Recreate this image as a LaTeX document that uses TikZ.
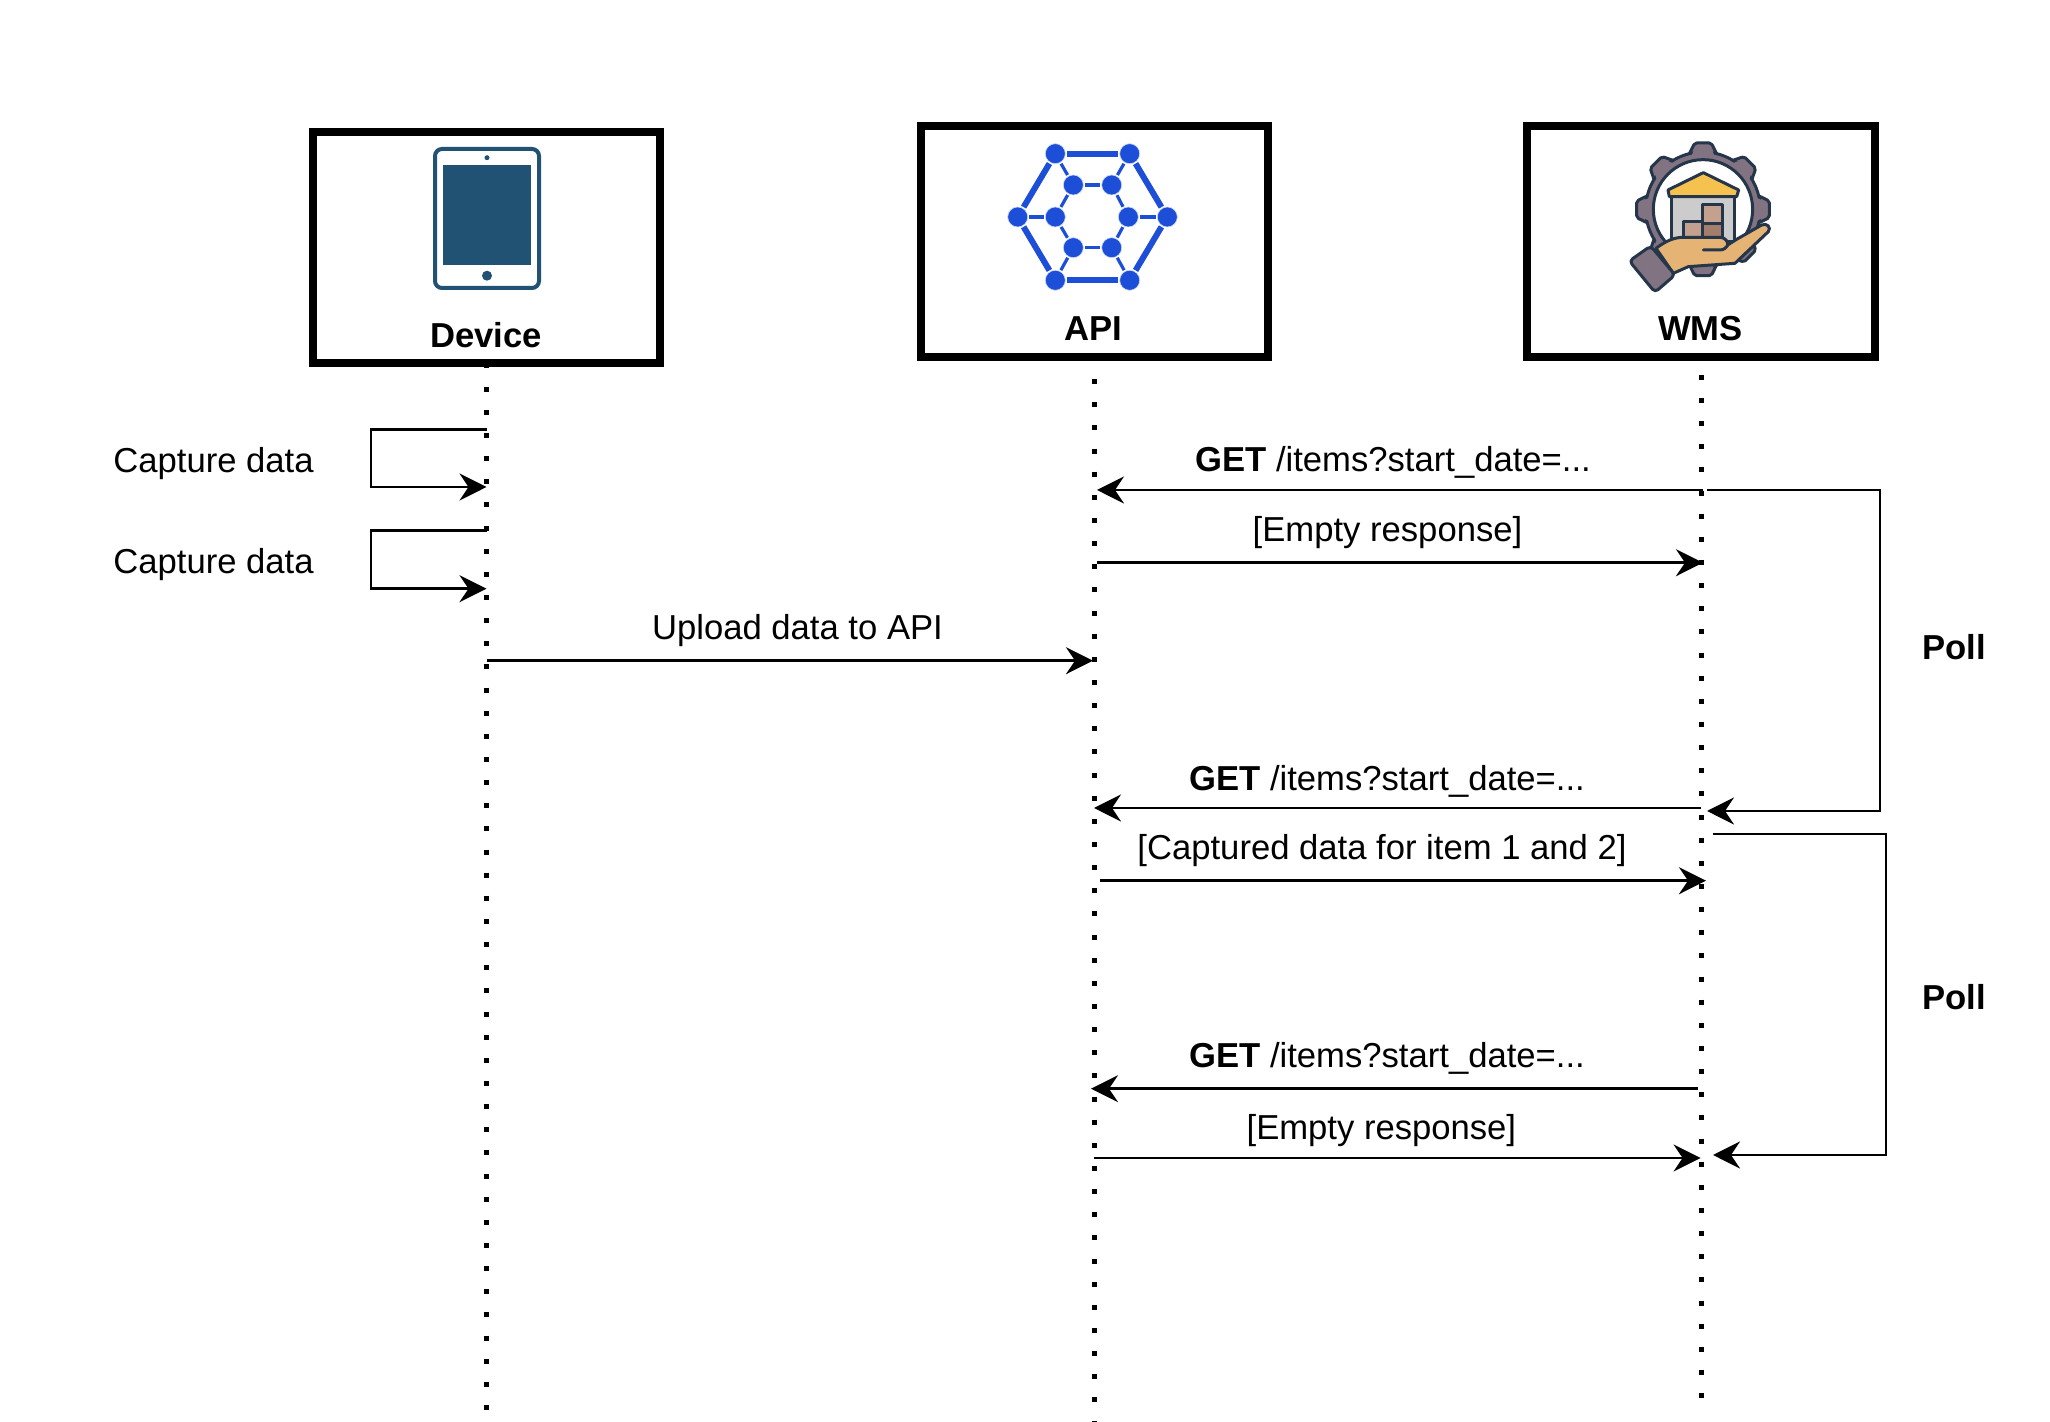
\documentclass[tikz,border=0pt]{standalone}
\usepackage{fontspec}
\setmainfont{Liberation Sans}
\usetikzlibrary{arrows.meta, positioning, calc}
\definecolor{tabletblue}{RGB}{33,82,115}
\definecolor{netblue}{RGB}{29,78,216}
\definecolor{halo}{RGB}{205,220,248}
\definecolor{gearinline}{RGB}{37,54,74}
\definecolor{geargray}{RGB}{130,115,130}
\definecolor{roofyellow}{RGB}{245,194,80}
\definecolor{wallgray}{RGB}{204,204,204}
\definecolor{boxlight}{RGB}{196,160,142}
\definecolor{boxdark}{RGB}{164,126,108}
\definecolor{handtan}{RGB}{229,180,117}
\tikzset{
  actorbox/.style={draw=black, line width=0.08cm, fill=white, minimum width=3.47cm, minimum height=2.31cm, inner sep=0pt},
  lifeline/.style={line width=0.05cm, dash pattern=on 0.05cm off 0.1813cm},
  msg/.style={line width=0.026cm, -{Stealth[length=0.27cm, width=0.27cm, inset=0.09cm]}},
  plainlabel/.style={anchor=base, inner sep=0pt, font=\fontsize{9.85}{12}\selectfont},
  boldlabel/.style={plainlabel, font=\fontsize{9.85}{12}\selectfont\bfseries},
  netdot/.style={circle, fill=netblue, draw=halo, line width=0.006cm, minimum size=0.2cm, inner sep=0pt, outer sep=0.015cm},
  iconline/.style={draw=gearinline, line width=0.03cm, line join=round}
}
\begin{document}
\begin{tikzpicture}[x=0.01cm, y=-0.01cm]
  \useasboundingbox (0,0) rectangle (2050,1422);
  \fill[white] (0,0) rectangle (2050,1422);

  \foreach \name/\x/\y in {devtop/486.5/363.5, devend/486.5/1410, apitop/1094/356, apiend/1094/1422, wmstop/1701.5/374.8, wmsend/1701.5/1398}
    \coordinate (\name) at (\x,\y);
  \draw[lifeline] (devtop) -- (devend);
  \draw[lifeline] (apitop) -- (apiend);
  \draw[lifeline] (wmstop) -- (wmsend);

  \node[actorbox] (device) at (486.75,247.5) {};
  \node[actorbox] (api) at (1094.5,241.5) {};
  \node[actorbox] (wms) at (1701,241.5) {};
  \node[boldlabel] (devicelabel) at (486,348) {Device};
  \node[boldlabel] (apilabel) at (1093,341) {API};
  \node[boldlabel] (wmslabel) at (1700.5,341) {WMS};

  % tablet
  \draw[tabletblue, line width=0.04cm, rounded corners=0.07cm] (435,149) rectangle (539,288);
  \fill[tabletblue] (443,165) rectangle (531,265);
  \fill[tabletblue] (487,157.7) circle (2.5);
  \fill[tabletblue] (487,275.7) circle (5);

  % network
  \foreach \name/\x/\y in {o1/1055.3/153.7, o2/1129.7/153.7, o3/1167.3/217, o4/1129.7/280.3, o5/1055.3/280.3, o6/1017.7/217,
                           i1/1073.3/185, i2/1111.7/185, i3/1128.3/217, i4/1111.7/247.7, i5/1073.3/247.7, i6/1055.3/217}
    \node[netdot] (\name) at (\x,\y) {};
  \foreach \a/\b in {o1/o2, o2/o3, o3/o4, o4/o5, o5/o6, o6/o1}
    \draw[netblue, line width=0.06cm] (\a) -- (\b);
  \foreach \a/\b in {o1/i1, o2/i2, o3/i3, o4/i4, o5/i5, o6/i6, i1/i2, i2/i3, i3/i4, i4/i5, i5/i6, i6/i1}
    \draw[netblue, line width=0.032cm] (\a) -- (\b);

  % warehouse
  \begin{scope}[shift={(1620,130)}, scale=0.3333]
    \foreach \a in {0,45,...,315}
      \filldraw[iconline, fill=geargray, rotate around={\a:(249,238)}, rounded corners=0.02cm] (205,78) -- (224,39) -- (274,39) -- (293,78) -- cycle;
    \filldraw[iconline, fill=geargray] (249,238) circle (172);
    \foreach \a in {0,45,...,315}
      \fill[geargray, rotate around={\a:(249,238)}] (211,85) -- (228,47) -- (270,47) -- (287,85) -- cycle;
    \fill[geargray] (249,238) circle (166);
    \filldraw[iconline, fill=white] (249,238) circle (149);
    \filldraw[iconline, fill=wallgray] (153,198) rectangle (345,335);
    \filldraw[iconline, fill=roofyellow] (250,128) -- (356,180) -- (350,200) -- (148,200) -- (144,180) -- cycle;
    \filldraw[iconline, fill=boxlight] (248,225) rectangle (308,280);
    \filldraw[iconline, fill=boxdark] (248,280) rectangle (308,322);
    \filldraw[iconline, fill=boxlight] (190,275) rectangle (248,322);
    \filldraw[iconline, fill=handtan] (108,355) .. controls (135,335) and (160,322) .. (190,322) -- (300,322) .. controls (315,322) and (325,335) .. (323,345) -- (350,328) -- (425,285) .. controls (440,278) and (455,292) .. (445,305) -- (345,400) -- (205,410) -- (160,430) -- cycle;
    \draw[iconline, line cap=round] (250,360) -- (300,360) .. controls (312,360) and (320,352) .. (323,345);
    \filldraw[iconline, fill=geargray, rounded corners=0.04cm] (28,393) -- (92,348) -- (165,435) -- (105,487) -- cycle;
  \end{scope}

  \foreach \name/\x/\y in {capa/486.5/429.5, capb/371/429.5, capc/371/487, capd/486.5/487,
                           cape/486.5/530.7, capf/371/530.7, capg/371/588.7, caph/486.5/588.7,
                           upa/486.5/660.7, upb/1093/660.7,
                           geta/1703/490, getb/1097/490, empa/1097/562.7, empb/1703/562.7,
                           polla/1707/490, pollb/1880/490, pollc/1880/811, polld/1707/811,
                           getc/1701/808, getd/1094/808, capi/1100/880.7, capj/1706/880.7,
                           polle/1713/834, pollf/1886/834, pollg/1886/1155, pollh/1713/1155,
                           gete/1698/1088.7, getf/1091/1088.7, empc/1094/1158, empd/1700.6/1158}
    \coordinate (\name) at (\x,\y);

  \draw[msg] (capa) -- (capb) -- (capc) -- (capd);
  \draw[msg] (cape) -- (capf) -- (capg) -- (caph);
  \draw[msg] (upa) -- (upb);
  \draw[msg] (geta) -- (getb);
  \draw[msg] (empa) -- (empb);
  \draw[msg] (polla) -- (pollb) -- (pollc) -- (polld);
  \draw[msg] (getc) -- (getd);
  \draw[msg] (capi) -- (capj);
  \draw[msg] (polle) -- (pollf) -- (pollg) -- (pollh);
  \draw[msg] (gete) -- (getf);
  \draw[msg] (empc) -- (empd);

  \node[plainlabel] (capturea) at (213.5,472.5) {Capture data};
  \node[plainlabel] (captureb) at (213.5,573.8) {Capture data};
  \node[plainlabel] (upload) at (797.5,640) {Upload data to API};
  \node[plainlabel] (getfirst) at (1393,472) {\textbf{GET} /items?start\_date=...};
  \node[plainlabel] (emptyfirst) at (1387.5,542) {[Empty response]};
  \node[plainlabel] (getsecond) at (1387,790.5) {\textbf{GET} /items?start\_date=...};
  \node[plainlabel] (captured) at (1382,859.5) {[Captured data for item 1 and 2]};
  \node[plainlabel] (getthird) at (1387,1067.5) {\textbf{GET} /items?start\_date=...};
  \node[plainlabel] (emptysecond) at (1381.4,1139.5) {[Empty response]};
  \node[boldlabel] (pollfirst) at (1954,660) {Poll};
  \node[boldlabel] (pollsecond) at (1954,1010) {Poll};
\end{tikzpicture}
\end{document}
